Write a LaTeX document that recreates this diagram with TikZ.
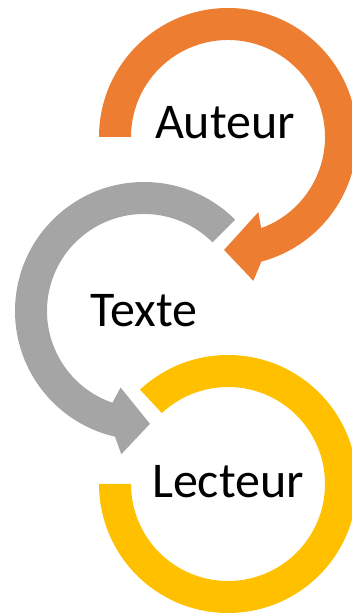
\documentclass[tikz,border=0pt]{standalone}
\usepackage{fontspec}
\setmainfont{Carlito}
\usepackage{xcolor}
\definecolor{ringorange}{HTML}{ED7D31}
\definecolor{ringgray}{HTML}{A5A5A5}
\definecolor{ringyellow}{HTML}{FFC000}

\begin{document}
\begin{tikzpicture}[x=1pt,y=1pt,
    word/.style={font=\fontsize{50}{60}\selectfont,anchor=base,inner sep=0pt},
    ring/.style={draw=none},]
\useasboundingbox (0,0) rectangle (351,613);
\coordinate (O) at (228,476);
\coordinate (G) at (144,302);
\coordinate (Y) at (228,129);
% orange arrow, clockwise
\fill[ring,ringorange,shift={(O)}] (180:129) arc[start angle=180,end angle=-75,radius=129]
    -- (-80:146) -- (-92:113) -- (-68:81) -- (-70:97)
    arc[start angle=-70,end angle=180,radius=97] -- cycle;
% gray arrow, anticlockwise
\fill[ring,ringgray,shift={(G)}] (45:129) arc[start angle=45,end angle=257,radius=129]
    -- (261:145) -- (273:113) -- (253:80) -- (251:97)
    arc[start angle=251,end angle=45,radius=97] -- cycle;
% yellow ring
\fill[ring,ringyellow,shift={(Y)}] (133:129) arc[start angle=133,end angle=-180,radius=129]
    -- (180:97) arc[start angle=-180,end angle=133,radius=97] -- cycle;
\node[word] (auteur) at (225,474) {Auteur};
\node[word] (texte) at (144,286) {Texte};
\node[word] (lecteur) at (228,115) {Lecteur};
\end{tikzpicture}
\end{document}
